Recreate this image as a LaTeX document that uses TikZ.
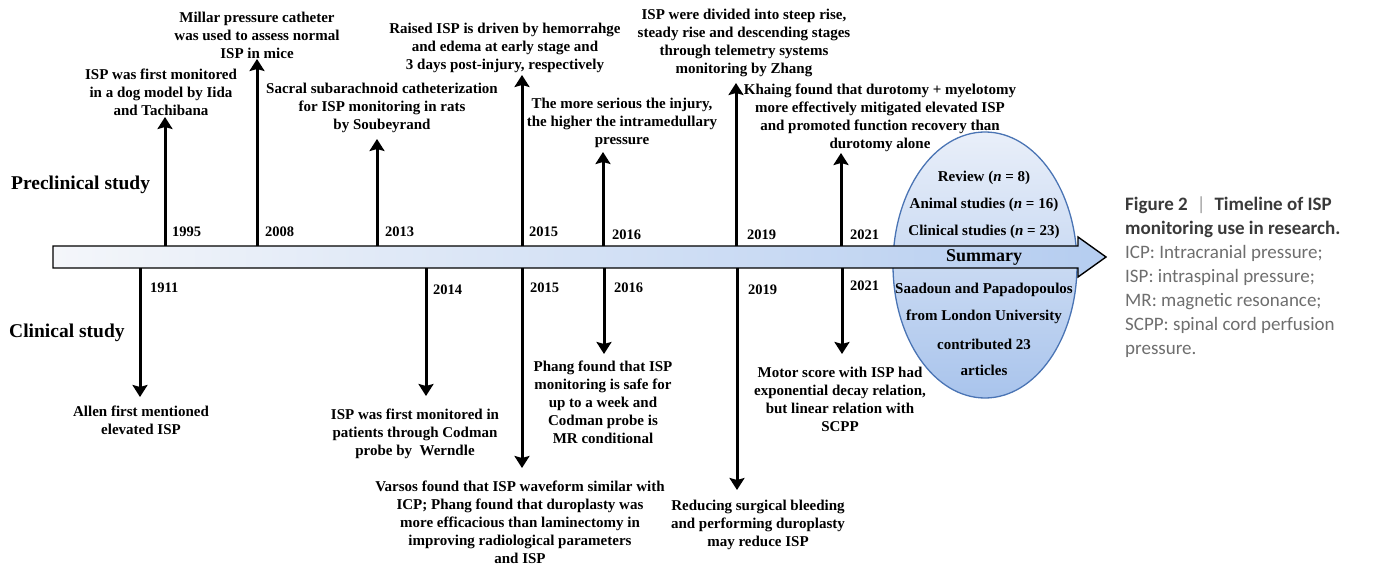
\documentclass[tikz,border=0pt]{standalone}
\usepackage{fontspec}
\setmainfont{Liberation Serif}
\newfontfamily\capfont{Carlito}
\usetikzlibrary{arrows.meta,shapes.geometric}
\definecolor{bandL}{HTML}{F4F6FA}
\definecolor{bandR}{HTML}{B5CDF0}
\definecolor{ellT}{HTML}{E9EFF9}
\definecolor{ellB}{HTML}{A9C4EC}
\definecolor{ellE}{HTML}{4A74B4}
\definecolor{capDark}{HTML}{3A3A3A}
\definecolor{capGray}{HTML}{6E6E6E}
\definecolor{capBar}{HTML}{9A9A9A}
\begin{document}
\begin{tikzpicture}[x=1pt,y=-1pt,
  txt/.style={font=\bfseries\fontsize{15}{18}\selectfont, align=center, inner sep=0pt},
  yr/.style={font=\bfseries\fontsize{14.5}{16}\selectfont, anchor=west, inner sep=0pt},
  side/.style={font=\bfseries\fontsize{19.5}{22}\selectfont, anchor=west, inner sep=0pt},
  vt/.style={line width=3pt, -{Stealth[length=12pt,width=15pt,inset=2pt]}},
  band/.style={draw=black, line width=1.4pt, left color=bandL, right color=bandR},
  summ/.style={ellipse, draw=ellE, line width=1.3pt, top color=ellT, bottom color=ellB, minimum width=184pt, minimum height=266pt, inner sep=0pt}]
\useasboundingbox (0,0) rectangle (1377,564);

% summary ellipse
\node[summ] (ell) at (985,265) {};

% main timeline arrow
\draw[band] (53,246) -- (1078,246) -- (1078,237) -- (1106,257) -- (1078,277) -- (1078,268) -- (53,268) -- cycle;

% ellipse texts
\node[txt] (rev) at (984,178) {Review (\textit{n} = 8)};
\node[txt] (ani) at (984,205) {Animal studies (\textit{n} = 16)};
\node[txt] (cli) at (984,232) {Clinical studies (\textit{n} = 23)};
\node[txt, font=\bfseries\fontsize{18}{20}\selectfont] (sum) at (984,257) {Summary};
\node[txt] (sa1) at (984,290) {Saadoun and Papadopoulos};
\node[txt] (sa2) at (984,317) {from London University};
\node[txt] (sa3) at (984,344) {contributed 23};
\node[txt] (sa4) at (984,370) {articles};

% side labels
\node[side] (pre) at (11,185) {Preclinical study};
\node[side] (cln) at (9,333) {Clinical study};

% ---- upward arrows (preclinical) ----
\coordinate (b1995) at (165,246); \coordinate (h1995) at (165,117);
\coordinate (b2008) at (257,246); \coordinate (h2008) at (257,59);
\coordinate (b2013) at (377,246); \coordinate (h2013) at (377,139);
\coordinate (b2015u) at (522,246); \coordinate (h2015u) at (522,75);
\coordinate (b2016u) at (603,246); \coordinate (h2016u) at (603,152);
\coordinate (b2019u) at (736,246); \coordinate (h2019u) at (736,83);
\coordinate (b2021u) at (841,246); \coordinate (h2021u) at (841,153);
\foreach \n in {1995,2008,2013,2015u,2016u,2019u,2021u}{\draw[vt] (b\n) -- (h\n);}

\node[yr] (y1995) at (172,232) {1995};
\node[yr] (y2008) at (265,232) {2008};
\node[yr] (y2013) at (385,232) {2013};
\node[yr] (y2015u) at (529,232) {2015};
\node[yr] (y2016u) at (612,235) {2016};
\node[yr] (y2019u) at (747,235) {2019};
\node[yr] (y2021u) at (850,235) {2021};

\node[txt] (t1995) at (161,92) {ISP was first monitored\\in a dog model by Iida\\and Tachibana};
\node[txt] (t2008) at (257,35) {Millar pressure catheter\\was used to assess normal\\ISP in mice};
\node[txt] (t2013) at (382,108) {Sacral subarachnoid catheterization\\for ISP monitoring in rats\\by Soubeyrand};
\node[txt] (t2015u) at (505,48) {Raised ISP is driven by hemorrahge\\and edema at early stage and\\3 days post-injury, respectively};
\node[txt] (t2016u) at (622,123) {The more serious the injury,\\the higher the intramedullary\\pressure};
\node[txt] (t2019u) at (744,43) {ISP were divided into steep rise,\\steady rise and descending stages\\through telemetry systems\\monitoring by Zhang};
\node[txt] (t2021u) at (880,118) {Khaing found that durotomy + myelotomy\\more effectively mitigated elevated ISP\\and promoted function recovery than\\durotomy alone};

% ---- downward arrows (clinical) ----
\coordinate (b1911) at (140,268); \coordinate (h1911) at (140,397);
\coordinate (b2014) at (426,268); \coordinate (h2014) at (426,396);
\coordinate (b2015d) at (522,268); \coordinate (h2015d) at (522,468);
\coordinate (b2016d) at (604,268); \coordinate (h2016d) at (604,354);
\coordinate (b2019d) at (737,268); \coordinate (h2019d) at (737,490);
\coordinate (b2021d) at (842,268); \coordinate (h2021d) at (842,354);
\foreach \n in {1911,2014,2015d,2016d,2019d,2021d}{\draw[vt] (b\n) -- (h\n);}

\node[yr] (y1911) at (150,288) {1911};
\node[yr] (y2014) at (433,290) {2014};
\node[yr] (y2015d) at (530,288) {2015};
\node[yr] (y2016d) at (614,288) {2016};
\node[yr] (y2019d) at (748,290) {2019};
\node[yr] (y2021d) at (850,286) {2021};

\node[txt] (t1911) at (141,420) {Allen first mentioned\\elevated ISP};
\node[txt] (t2014) at (415,434) {ISP was first monitored in\\patients through Codman\\probe by\ \ Werndle};
\node[txt] (t2015d) at (520,522) {Varsos found that ISP waveform similar with\\ICP; Phang found that duroplasty was\\more efficacious than laminectomy in\\improving radiological parameters\\and ISP};
\node[txt] (t2016d) at (603,402) {Phang found that ISP\\monitoring is safe for\\up to a week and\\Codman probe is\\MR conditional};
\node[txt] (t2019d) at (758,525) {Reducing surgical bleeding\\and performing duroplasty\\may reduce ISP};
\node[txt] (t2021d) at (840,399) {Motor score with ISP had\\exponential decay relation,\\but linear relation with\\SCPP};

% caption
\node[anchor=west, align=left, inner sep=0pt, font=\capfont\fontsize{19}{24}\selectfont, text=capGray] (cap) at (1125,277.5)
{\textcolor{capDark}{\bfseries Figure 2\hspace{9pt}\textcolor{capBar}{\mdseries|}\hspace{9pt}Timeline of ISP}\\
\textcolor{capDark}{\bfseries monitoring use in research.}\\
ICP: Intracranial pressure;\\
ISP: intraspinal pressure;\\
MR: magnetic resonance;\\
SCPP: spinal cord perfusion\\
pressure.};
\end{tikzpicture}
\end{document}
